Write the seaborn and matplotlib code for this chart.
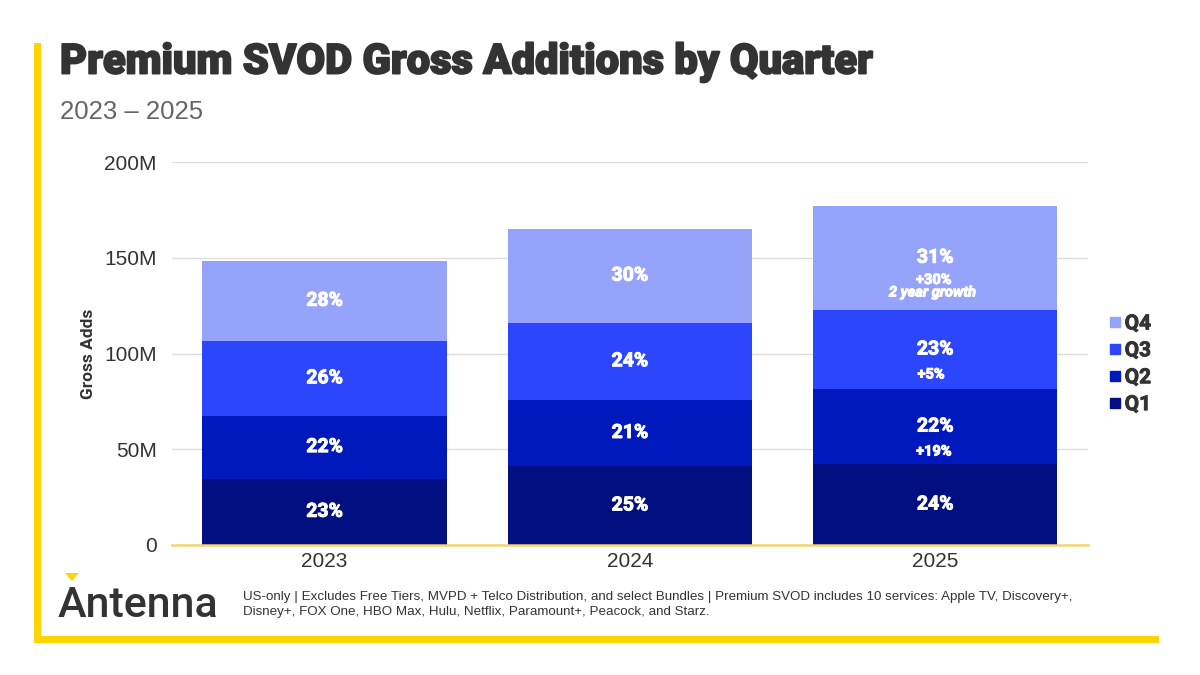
import numpy as np
import pandas as pd
import seaborn as sns
from matplotlib import pyplot as plt
from matplotlib import patheffects as pe
from matplotlib.lines import Line2D
from matplotlib.patches import Rectangle, Polygon
from matplotlib.ticker import FuncFormatter

# gross adds per quarter, millions
years = ['2023', '2024', '2025']
q1 = [34.7, 41.3, 42.3]
q2 = [32.9, 34.5, 39.2]
q3 = [39.0, 40.4, 41.3]
q4 = [42.0, 49.0, 54.6]

quarters = ['Q1', 'Q2', 'Q3', 'Q4']
share_labels = {
    'Q1': ['23%', '25%', '24%'],
    'Q2': ['22%', '21%', '22%'],
    'Q3': ['26%', '24%', '23%'],
    'Q4': ['28%', '30%', '31%'],
}
growth_labels = {'Q2': '+19%', 'Q3': '+5%', 'Q4': '+30%'}  # 2025 vs 2023
colors = {'Q1': '#020F80', 'Q2': '#0019BD', 'Q3': '#2C46FE', 'Q4': '#96A3FB'}

sns.set_theme(style='white')
plt.rcParams['font.family'] = ['Liberation Sans', 'DejaVu Sans']

df = pd.DataFrame({'Year': years, 'Q1': q1, 'Q2': q2, 'Q3': q3, 'Q4': q4})
cum = df[quarters].cumsum(axis=1)

fig = plt.figure(figsize=(12, 6.75), dpi=100)
ax = fig.add_axes([0.1433, 0.1926, 0.7633, 0.567])

# stacked look: draw cumulative totals from the top down
for q in quarters[::-1]:
    sns.barplot(x=df['Year'], y=cum[q], color=colors[q], saturation=1, width=0.8, ax=ax,
                linewidth=0, edgecolor='none', zorder=2)

ax.set_ylim(0, 200)
ax.set_xlim(-0.5, 2.5)
ax.set_yticks([0, 50, 100, 150, 200])
ax.yaxis.set_major_formatter(FuncFormatter(lambda v, p: '0' if v == 0 else f'{v:.0f}M'))
ax.grid(axis='y', color='#DDDDDD', linewidth=1, zorder=0)
ax.set_axisbelow(True)
for s in ['top', 'right', 'left']:
    ax.spines[s].set_visible(False)
ax.spines['bottom'].set_color('#F3D672')
ax.spines['bottom'].set_linewidth(1.8)
ax.spines['bottom'].set_zorder(3)
ax.tick_params(axis='y', length=0, pad=11, labelsize=15, labelcolor='#333333')
ax.tick_params(axis='x', length=0, pad=5, labelsize=15, labelcolor='#333333')
ax.set_xlabel('')
ax.set_ylabel('Gross Adds', fontsize=12.5, fontweight='bold', family=['Roboto', 'Liberation Sans'],
              color='#333333', labelpad=6)

# segment labels
heavy = [pe.withStroke(linewidth=0.7, foreground='white')]
lab_font = dict(family=['Roboto', 'Liberation Sans'], fontweight='bold', color='white', ha='center',
                va='center', path_effects=heavy)
for i, yr in enumerate(years):
    base = 0
    for q in quarters:
        v = df.loc[i, q]
        mid = base + v / 2
        ax.annotate(share_labels[q][i], (i, mid), fontsize=14, **lab_font)
        if yr == '2025' and q in growth_labels:
            ax.annotate(growth_labels[q], (i, mid), xytext=(-3 if q == 'Q3' else -1, -18 if q != 'Q4' else -16),
                        textcoords='offset points', fontsize=10.5, **lab_font)
            if q == 'Q4':
                ax.annotate('2 year growth', (i, mid), xytext=(-2, -25), textcoords='offset points',
                            fontsize=10.5, fontstyle='italic', **lab_font)
        base += v

# legend
handles = [Line2D([], [], marker='s', linestyle='', markersize=7, color=colors[q]) for q in quarters[::-1]]
leg = fig.legend(handles, quarters[::-1], loc='upper left', bbox_to_anchor=(0.906, 0.562), frameon=False,
                 handletextpad=0.0, labelspacing=0.38, handlelength=0.9,
                 prop=dict(family=['Roboto', 'Liberation Sans'], weight='bold', size=15))
for t in leg.get_texts():
    t.set_color('#333333')
    t.set_path_effects([pe.withStroke(linewidth=0.6, foreground='#333333')])

# title block
fig.text(0.05, 0.891, 'Premium SVOD Gross Additions by Quarter', fontsize=30, fontweight='black',
         family=['Roboto', 'Liberation Sans'], color='#333333', va='baseline',
         path_effects=[pe.withStroke(linewidth=1.3, foreground='#333333')])
fig.text(0.05, 0.823, '2023 – 2025', fontsize=18.5, color='#666666', va='baseline')

# frame
gold = '#FFD400'
fig.add_artist(Rectangle((34 / 1200, 1 - 643 / 675), 7 / 1200, 600 / 675, transform=fig.transFigure, color=gold, lw=0))
fig.add_artist(Rectangle((34 / 1200, 1 - 643 / 675), 1125 / 1200, 7 / 675, transform=fig.transFigure, color=gold, lw=0))

# logo + footnote
fig.text(58 / 1200, 1 - 617 / 675, 'Antenna', fontsize=31, fontweight='medium',
         family=['Roboto', 'Liberation Sans'], color='#333333', va='baseline')
fig.add_artist(Polygon([(65 / 1200, 1 - 573 / 675), (79 / 1200, 1 - 573 / 675), (72 / 1200, 1 - 581 / 675)],
                       transform=fig.transFigure, color=gold, lw=0))
fig.text(243 / 1200, 1 - 591 / 675,
         'US-only | Excludes Free Tiers, MVPD + Telco Distribution, and select Bundles | Premium SVOD includes 10 services: Apple TV, Discovery+,\n'
         'Disney+, FOX One, HBO Max, Hulu, Netflix, Paramount+, Peacock, and Starz.',
         fontsize=9.6, color='#333333', va='top', linespacing=1.35)

fig.savefig('out.png', dpi=100, facecolor='white')
